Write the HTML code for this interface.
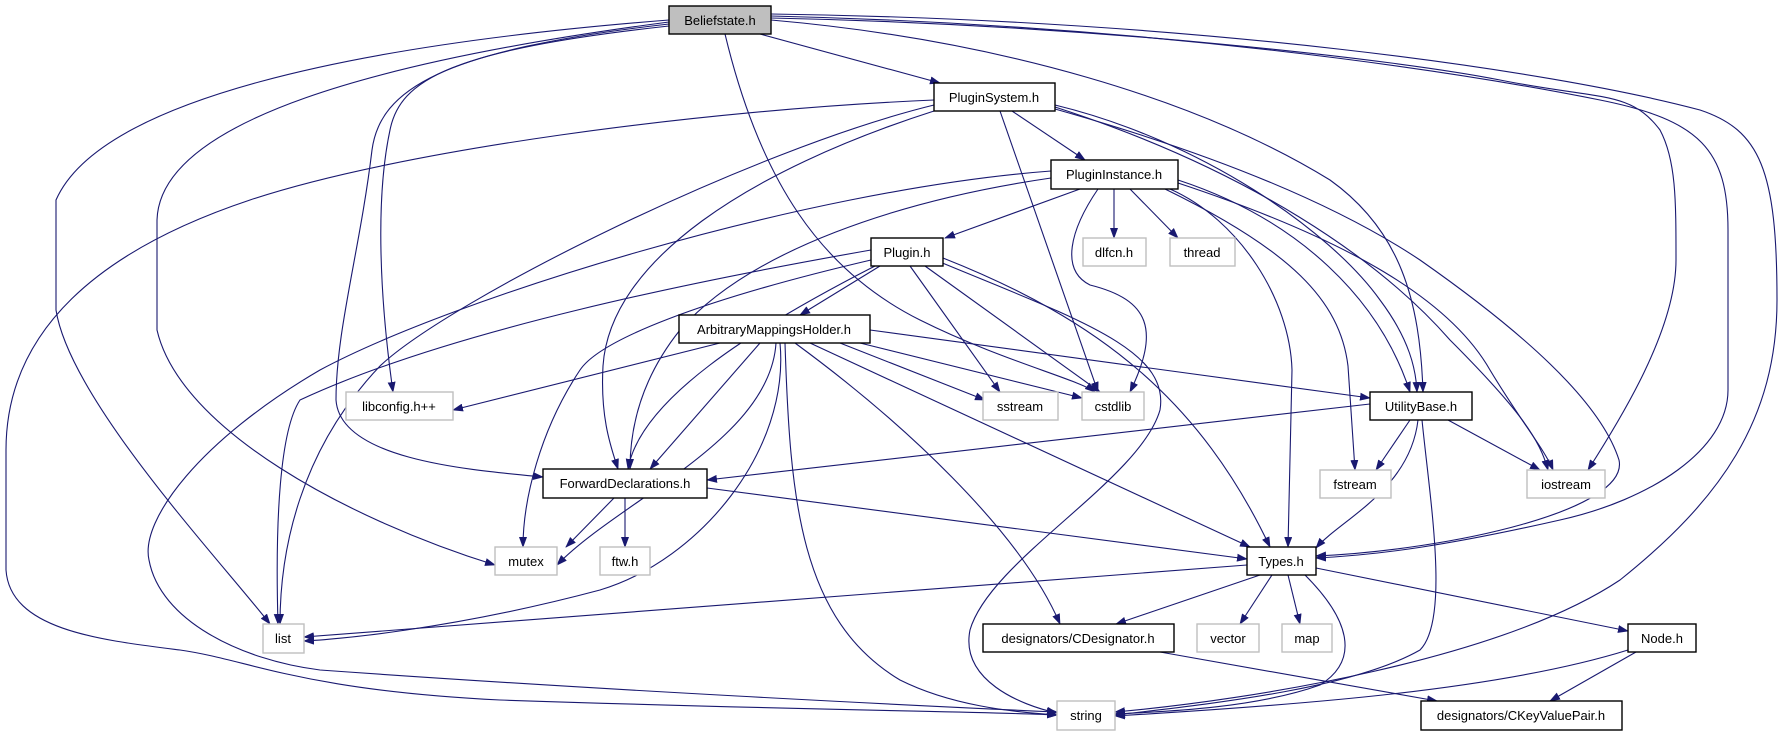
<!DOCTYPE html>
<html><head><meta charset="utf-8"><style>
html,body{margin:0;padding:0;background:#fff;}
svg{display:block;}
text{font-family:"Liberation Sans",sans-serif;font-size:13px;fill:#000;}
</style></head><body>
<svg width="1784" height="736" viewBox="0 0 1784 736" xmlns="http://www.w3.org/2000/svg">
<defs><marker id="a" markerWidth="11" markerHeight="8" refX="10" refY="4" orient="auto" markerUnits="userSpaceOnUse"><path d="M0,0 L11,4 L0,8 z" fill="#191970"/></marker></defs>
<g fill="none" stroke="#191970" stroke-width="1.1" marker-end="url(#a)">
<path d="M760,34 L940,83"/>
<path d="M669,20 C350,45 100,100 56,200 L56,310 C70,400 220,560 270,624"/>
<path d="M669,22 C380,60 160,120 157,220 L157,330 C180,430 350,520 495,565"/>
<path d="M669,26 C450,50 400,80 390,130 C375,200 380,300 393,392"/>
<path d="M669,24 C440,50 380,90 372,150 C360,250 336,330 336,400 C340,460 470,470 543,477"/>
<path d="M725,34 C760,180 820,270 920,320 C1000,360 1080,380 1095,392"/>
<path d="M771,20 C1000,40 1200,100 1330,180 C1400,230 1420,300 1423,392"/>
<path d="M771,18 C1100,25 1400,60 1500,80 C1600,100 1630,90 1660,130 C1676,160 1676,200 1676,260 C1676,330 1620,420 1588,470"/>
<path d="M771,16 C1150,25 1450,70 1600,100 C1700,120 1728,150 1728,230 L1728,390 C1728,450 1650,500 1560,520 C1450,545 1380,555 1316,558"/>
<path d="M771,14 C1200,20 1550,70 1700,110 C1760,130 1777,170 1777,300 C1777,420 1720,500 1620,580 C1500,660 1250,700 1115,712"/>
<path d="M1012,111 L1085,160"/>
<path d="M1000,111 L1098,392"/>
<path d="M934,105 C750,150 450,300 380,366 C300,450 280,550 280,624"/>
<path d="M934,111 C750,170 610,260 603,366 C600,420 612,450 618,469"/>
<path d="M934,100 C700,110 400,150 250,200 C100,250 6,330 6,450 L6,570 C10,630 100,640 180,650 C250,660 300,690 500,700 C800,710 1000,712 1057,715"/>
<path d="M1055,105 C1200,140 1330,230 1380,300 C1410,340 1416,370 1417,392"/>
<path d="M1055,107 C1250,170 1380,260 1450,340 C1520,410 1540,440 1548,470"/>
<path d="M1055,109 C1200,150 1330,200 1420,260 C1520,330 1600,400 1619,460 C1630,510 1450,550 1316,556"/>
<path d="M1080,189 L945,238"/>
<path d="M1114,189 L1114,238"/>
<path d="M1130,189 L1178,238"/>
<path d="M1098,189 C1070,230 1060,270 1090,285 C1150,300 1160,330 1130,392"/>
<path d="M1051,178 C900,200 750,250 680,330 C640,380 630,430 630,469"/>
<path d="M1051,171 C800,190 450,300 320,370 C200,440 140,520 149,560 C160,620 240,660 320,670 C600,690 900,705 1057,712"/>
<path d="M1170,189 C1240,220 1290,300 1292,370 L1288,547"/>
<path d="M1165,189 C1290,250 1340,300 1348,366 L1355,470"/>
<path d="M1178,180 C1300,220 1380,300 1410,392"/>
<path d="M1178,183 C1350,240 1450,300 1490,370 C1520,420 1545,450 1553,470"/>
<path d="M880,266 L800,315"/>
<path d="M871,250 C700,280 450,330 300,400 C280,430 275,520 278,624"/>
<path d="M875,266 C750,330 640,400 628,469"/>
<path d="M871,260 C700,300 600,340 580,370 C540,430 523,500 523,547"/>
<path d="M910,266 L1000,392"/>
<path d="M925,266 L1100,392"/>
<path d="M940,262 C1080,320 1170,350 1160,410 C1140,480 990,560 970,630 C960,680 1020,705 1057,713"/>
<path d="M943,258 C1100,320 1200,400 1270,547"/>
<path d="M720,343 L453,410"/>
<path d="M760,343 L650,469"/>
<path d="M776,343 C770,440 620,500 557,565"/>
<path d="M780,343 C790,450 700,560 600,590 C450,630 330,640 304,641"/>
<path d="M785,343 C790,500 800,620 900,680 C950,705 1010,712 1057,715"/>
<path d="M795,343 C900,420 1020,530 1060,624"/>
<path d="M810,343 L1250,547"/>
<path d="M840,343 L985,400"/>
<path d="M860,343 L1082,398"/>
<path d="M870,330 L1370,398"/>
<path d="M1370,404 L707,480"/>
<path d="M1410,420 L1376,470"/>
<path d="M1448,420 L1540,470"/>
<path d="M1418,420 C1410,490 1340,520 1316,548"/>
<path d="M1422,420 C1430,500 1450,620 1420,650 C1350,690 1200,705 1115,715"/>
<path d="M614,498 L566,547"/>
<path d="M625,498 L625,547"/>
<path d="M707,488 L1247,559"/>
<path d="M1247,565 L304,637"/>
<path d="M1260,575 L1116,624"/>
<path d="M1272,575 L1240,624"/>
<path d="M1288,575 L1300,624"/>
<path d="M1305,575 C1350,620 1360,660 1320,685 C1250,710 1150,712 1115,714"/>
<path d="M1316,568 L1628,631"/>
<path d="M1160,652 L1437,701"/>
<path d="M1628,650 C1500,690 1300,705 1115,716"/>
<path d="M1636,652 L1550,701"/>
</g>
<g stroke-width="1.4" text-anchor="middle">
<rect x="669" y="6" width="102" height="28" fill="#bfbfbf" stroke="#000"/><text x="720" y="25">Beliefstate.h</text>
<rect x="934" y="83" width="121" height="28" fill="#fff" stroke="#000"/><text x="994" y="102">PluginSystem.h</text>
<rect x="1051" y="160" width="127" height="29" fill="#fff" stroke="#000"/><text x="1114" y="179">PluginInstance.h</text>
<rect x="871" y="238" width="72" height="28" fill="#fff" stroke="#000"/><text x="907" y="257">Plugin.h</text>
<rect x="1083" y="238" width="63" height="28" fill="#fff" stroke="#bfbfbf"/><text x="1114" y="257">dlfcn.h</text>
<rect x="1170" y="238" width="65" height="28" fill="#fff" stroke="#bfbfbf"/><text x="1202" y="257">thread</text>
<rect x="679" y="315" width="191" height="28" fill="#fff" stroke="#000"/><text x="774" y="334">ArbitraryMappingsHolder.h</text>
<rect x="346" y="392" width="107" height="28" fill="#fff" stroke="#bfbfbf"/><text x="399" y="411">libconfig.h++</text>
<rect x="983" y="392" width="75" height="28" fill="#fff" stroke="#bfbfbf"/><text x="1020" y="411">sstream</text>
<rect x="1082" y="392" width="62" height="28" fill="#fff" stroke="#bfbfbf"/><text x="1113" y="411">cstdlib</text>
<rect x="1370" y="392" width="102" height="28" fill="#fff" stroke="#000"/><text x="1421" y="411">UtilityBase.h</text>
<rect x="543" y="469" width="164" height="29" fill="#fff" stroke="#000"/><text x="625" y="488">ForwardDeclarations.h</text>
<rect x="1320" y="470" width="71" height="28" fill="#fff" stroke="#bfbfbf"/><text x="1355" y="489">fstream</text>
<rect x="1527" y="470" width="78" height="28" fill="#fff" stroke="#bfbfbf"/><text x="1566" y="489">iostream</text>
<rect x="495" y="547" width="62" height="28" fill="#fff" stroke="#bfbfbf"/><text x="526" y="566">mutex</text>
<rect x="600" y="547" width="50" height="28" fill="#fff" stroke="#bfbfbf"/><text x="625" y="566">ftw.h</text>
<rect x="1247" y="547" width="69" height="28" fill="#fff" stroke="#000"/><text x="1281" y="566">Types.h</text>
<rect x="263" y="624" width="41" height="29" fill="#fff" stroke="#bfbfbf"/><text x="283" y="643">list</text>
<rect x="983" y="624" width="191" height="28" fill="#fff" stroke="#000"/><text x="1078" y="643">designators/CDesignator.h</text>
<rect x="1197" y="624" width="62" height="28" fill="#fff" stroke="#bfbfbf"/><text x="1228" y="643">vector</text>
<rect x="1282" y="624" width="50" height="28" fill="#fff" stroke="#bfbfbf"/><text x="1307" y="643">map</text>
<rect x="1628" y="624" width="68" height="28" fill="#fff" stroke="#000"/><text x="1662" y="643">Node.h</text>
<rect x="1057" y="701" width="58" height="29" fill="#fff" stroke="#bfbfbf"/><text x="1086" y="720">string</text>
<rect x="1421" y="701" width="201" height="29" fill="#fff" stroke="#000"/><text x="1521" y="720">designators/CKeyValuePair.h</text>
</g>
</svg>
</body></html>
